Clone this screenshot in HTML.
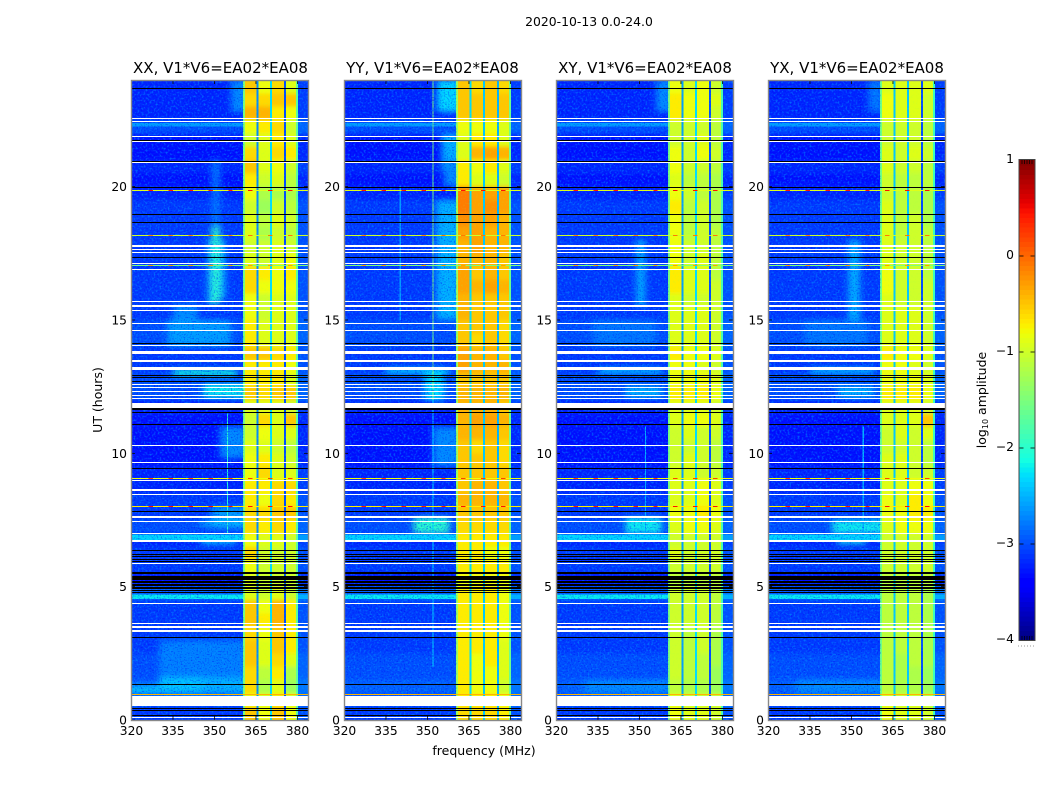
<!DOCTYPE html>
<html>
<head>
<meta charset="utf-8">
<title>Spectrogram 2020-10-13</title>
<style>
html,body{margin:0;padding:0;background:#fff;width:1050px;height:800px;overflow:hidden}
svg{display:block}
text{font-family:"DejaVu Sans","Liberation Sans",sans-serif;fill:#000}
.tick{font-size:12.3px}
.ttl{font-size:15px}
.lbl{font-size:12.5px}
</style>
</head>
<body>
<svg id="chart" xmlns="http://www.w3.org/2000/svg" width="1050" height="800" viewBox="0 0 1050 800">
<defs>
<filter id="vblur" filterUnits="userSpaceOnUse" x="0" y="40" width="1050" height="720"><feGaussianBlur stdDeviation="0 2"/></filter>
<filter id="softblur" filterUnits="userSpaceOnUse" x="0" y="40" width="1050" height="720"><feGaussianBlur stdDeviation="3.5 3"/></filter>
<filter id="speckle" x="0" y="0" width="100%" height="100%" color-interpolation-filters="sRGB">
<feTurbulence type="fractalNoise" baseFrequency="0.5" numOctaves="1" seed="7"/>
<feColorMatrix type="matrix" values="0 0 0 0 0  0 0 0 0 0.6  0 0 0 0 1  3.4 0 0 0 -1.6"/>
</filter>
<filter id="speckle-dark" x="0" y="0" width="100%" height="100%" color-interpolation-filters="sRGB">
<feTurbulence type="fractalNoise" baseFrequency="0.7" numOctaves="1" seed="23"/>
<feColorMatrix type="matrix" values="0 0 0 0 0  0 0 0 0 0  0 0 0 0 0.95  3.2 0 0 0 -1.7"/>
</filter>
<filter id="speckle-band" x="0" y="0" width="100%" height="100%" color-interpolation-filters="sRGB">
<feTurbulence type="fractalNoise" baseFrequency="0.6" numOctaves="1" seed="41"/>
<feColorMatrix type="matrix" values="0 0 0 0 0.6  0 0 0 0 1  0 0 0 0 0.3  3 0 0 0 -1.6"/>
</filter>
</defs>
<g id="panels"></g>
<g id="colorbar"></g>
<text x="589" y="26" text-anchor="middle" style="font-size:12.4px">2020-10-13 0.0-24.0</text>
<text class="ttl" x="220.5" y="73" text-anchor="middle">XX, V1*V6=EA02*EA08</text>
<text class="ttl" x="432.5" y="73" text-anchor="middle">YY, V1*V6=EA02*EA08</text>
<text class="ttl" x="645" y="73" text-anchor="middle">XY, V1*V6=EA02*EA08</text>
<text class="ttl" x="857" y="73" text-anchor="middle">YX, V1*V6=EA02*EA08</text>
<text class="lbl" x="484" y="755" text-anchor="middle">frequency (MHz)</text>
<text class="lbl" transform="translate(102,400) rotate(-90)" text-anchor="middle">UT (hours)</text>
<text class="lbl" transform="translate(986,400) rotate(-90)" text-anchor="middle">log<tspan dy="2" style="font-size:8px">10</tspan><tspan dy="-2"> amplitude</tspan></text>
</svg>
<script>
/* ---------- chart data ---------- */
var xTickValues = [320, 335, 350, 365, 380];
var yTickValues = [0, 5, 10, 15, 20];
var colorbarTickValues = [1, 0, -1, -2, -3, -4];
var colorbarTickLabels = ["1", "0", "\u22121", "\u22122", "\u22123", "\u22124"];
var rowHours = 0.5;
var subbandEdges = [360.4, 365.5, 370.5, 375.5, 380];
var gapFreqs = [360.7, 365.5, 370.5, 375.5, 379.9];
var xxGapValues = [-1.5, -2.7, -2.3, -3.0, -1.7];
var yyGapValues = [-1.3, -2.3, -2.4, -2.5, -1.6];
var xyGapValues = [-1.5, -2.6, -2.3, -3.0, -1.8];
var yxGapValues = [-1.6, -2.4, -2.4, -3.0, -1.9];

/* log10 amplitude away from the strong band; half-hour rows from UT 24 down to UT 0 */
var skyRowLevels = [-3.2,-3.2,-3.2,-3.0,-3.3,-3.3,-3.2,-3.3, -3.2,-3.1,-3.1,-3.1,-3.1,-3.1,-3.1,-3.1, -3.1,-3.1,-3.0,-3.0,-3.1,-3.1,-3.0,-3.0, -3.2,-3.3,-3.3,-3.3,-3.3,-3.2,-3.2,-3.1, -3.1,-3.0,-3.2,-3.1,-3.1,-3.3,-2.9,-3.1, -3.1,-3.1,-3.1,-3.0,-3.0,-2.9,-3.0,-3.1];

/* log10 amplitude in the four strong sub-bands, same rows */
var xxBand1 = [-0.5,-0.6,-0.4,-0.8,-1.0,-0.6,-0.5,-0.7, -0.8,-1.0,-0.9,-0.9,-1.0,-0.9,-0.6,-0.6, -0.8,-0.8,-0.7,-0.7,-0.5,-0.7,-0.7,-0.5, -0.9,-1.0,-1.0,-0.9,-0.8,-0.8,-0.7,-0.7, -0.6,-0.6,-0.8,-0.6,-0.8,-0.9,-0.9,-0.5, -0.5,-0.6,-0.5,-0.5,-0.6,-0.6,-0.8,-0.5];
var xxBand2 = [-0.8,-0.6,-0.4,-0.7,-0.9,-0.9,-0.9,-1.0, -1.2,-1.3,-1.1,-1.2,-1.0,-1.0,-0.7,-0.8, -1.0,-1.0,-0.9,-0.9,-0.5,-0.7,-0.7,-0.6, -0.9,-0.6,-0.8,-0.9,-0.7,-0.6,-0.7,-0.8, -0.6,-0.7,-0.9,-1.0,-1.0,-1.0,-1.0,-0.8, -0.7,-0.8,-0.9,-0.9,-1.1,-1.2,-0.9,-0.8];
var xxBand3 = [-0.6,-0.5,-0.7,-0.6,-0.7,-0.6,-0.8,-0.9, -1.2,-1.0,-0.9,-1.0,-0.9,-0.9,-0.8,-0.8, -0.9,-0.9,-0.9,-0.9,-0.6,-0.7,-0.7,-0.5, -0.9,-0.9,-0.9,-1.0,-0.9,-0.9,-0.6,-0.6, -0.5,-0.6,-0.9,-1.0,-1.0,-1.0,-0.9,-0.4, -0.4,-0.5,-0.5,-0.6,-0.7,-0.9,-0.7,-0.5];
var xxBand4 = [-0.9,-0.5,-0.8,-1.0,-0.9,-0.7,-1.0,-1.1, -1.2,-1.1,-1.0,-1.1,-1.0,-0.8,-0.7,-0.8, -0.9,-0.9,-0.9,-0.9,-0.7,-0.8,-0.9,-0.5, -1.0,-0.5,-0.9,-1.1,-1.0,-0.9,-0.6,-0.7, -0.5,-0.7,-1.0,-1.0,-1.0,-1.0,-1.0,-0.7, -0.7,-0.7,-0.7,-0.9,-1.2,-1.3,-0.9,-0.8];
var yyBand1 = [-0.5,-0.5,-0.5,-0.8,-0.9,-0.9,-0.7,-0.7, -0.1,-0.1,-0.2,-0.3,-0.4,-0.4,-0.3,-0.3, -0.4,-0.4,-0.5,-0.5,-0.3,-0.3,-0.5,-0.4, -0.4,-0.4,-0.4,-0.5,-0.5,-0.5,-0.5,-0.4, -0.5,-0.6,-0.7,-0.7,-0.7,-0.8,-0.7,-0.7, -0.7,-0.7,-0.7,-0.7,-0.7,-0.7,-0.7,-0.6];
var yyBand2 = [-0.6,-0.5,-0.5,-0.8,-0.7,-0.4,-0.8,-0.9, -0.3,-0.3,-0.3,-0.3,-0.3,-0.4,-0.5,-0.4, -0.5,-0.5,-0.5,-0.6,-0.4,-0.4,-0.5,-0.4, -0.4,-0.3,-0.4,-0.6,-0.5,-0.5,-0.4,-0.4, -0.5,-0.6,-0.7,-0.7,-0.7,-0.8,-0.7,-0.7, -0.7,-0.7,-0.7,-0.8,-0.8,-0.8,-0.7,-0.6];
var yyBand3 = [-0.5,-0.5,-0.5,-0.8,-0.7,-0.3,-0.7,-0.9, -0.3,-0.2,-0.3,-0.4,-0.4,-0.4,-0.4,-0.3, -0.5,-0.5,-0.5,-0.5,-0.4,-0.4,-0.5,-0.4, -0.4,-0.3,-0.4,-0.5,-0.5,-0.5,-0.4,-0.4, -0.5,-0.6,-0.7,-0.8,-0.7,-0.8,-0.7,-0.7, -0.7,-0.7,-0.7,-0.7,-0.8,-0.8,-0.7,-0.6];
var yyBand4 = [-0.6,-0.5,-0.5,-0.9,-0.9,-0.4,-0.9,-1.0, -0.3,-0.3,-0.4,-0.4,-0.4,-0.5,-0.5,-0.4, -0.5,-0.5,-0.6,-0.6,-0.5,-0.4,-0.5,-0.4, -0.5,-0.4,-0.5,-0.6,-0.6,-0.5,-0.5,-0.4, -0.5,-0.6,-0.7,-0.8,-0.7,-0.8,-0.8,-0.8, -0.8,-0.8,-0.9,-0.9,-0.9,-1.0,-0.8,-0.7];
var xyBand1 = [-0.8,-0.7,-0.7,-1.0,-1.0,-0.8,-0.8,-0.9, -0.8,-0.7,-0.8,-0.8,-0.8,-0.8,-0.7,-0.7, -0.9,-0.9,-0.9,-0.9,-0.7,-0.8,-0.8,-0.7, -0.9,-0.9,-1.0,-1.0,-1.0,-0.9,-0.9,-0.9, -0.8,-0.9,-1.0,-0.9,-1.0,-1.1,-1.0,-1.0, -1.0,-1.0,-1.0,-1.0,-1.0,-1.1,-0.9,-0.8];
var xyBand2 = [-0.9,-0.8,-0.8,-1.0,-1.0,-1.0,-1.0,-1.1, -1.0,-1.1,-1.1,-1.1,-1.0,-1.0,-0.9,-0.9, -1.0,-0.9,-0.9,-0.9,-0.8,-0.8,-0.8,-0.7, -0.9,-0.8,-0.9,-1.0,-0.9,-0.9,-0.9,-0.9, -0.8,-0.8,-1.0,-1.0,-1.0,-1.1,-1.0,-1.0, -1.0,-1.1,-1.1,-1.1,-1.1,-1.2,-1.0,-0.9];
var xyBand3 = [-0.8,-0.8,-0.8,-1.0,-0.9,-0.8,-1.0,-1.1, -1.1,-1.0,-1.0,-1.0,-1.0,-0.9,-0.9,-0.9, -1.0,-0.9,-0.9,-0.9,-0.8,-0.9,-0.8,-0.7, -0.9,-0.8,-1.0,-1.0,-1.0,-1.0,-0.8,-0.8, -0.7,-0.8,-1.0,-1.0,-1.0,-1.1,-1.0,-1.0, -1.0,-1.0,-1.0,-1.1,-1.1,-1.2,-1.0,-0.9];
var xyBand4 = [-1.0,-0.9,-1.0,-1.1,-1.1,-1.0,-1.1,-1.2, -1.2,-1.2,-1.2,-1.1,-1.1,-1.1,-1.1,-1.0, -1.0,-1.0,-1.0,-1.0,-0.9,-1.0,-0.9,-0.8, -1.0,-0.9,-1.0,-1.1,-1.1,-1.0,-0.9,-0.9, -0.8,-0.9,-1.0,-1.0,-1.0,-1.1,-1.1,-1.1, -1.1,-1.2,-1.2,-1.2,-1.3,-1.3,-1.0,-1.0];
var yxBand1 = [-0.9,-0.8,-0.8,-1.0,-1.0,-0.9,-0.9,-1.0, -1.0,-0.9,-0.9,-0.9,-0.9,-0.9,-0.8,-0.8, -0.9,-0.9,-0.9,-0.9,-0.7,-0.8,-0.8,-0.7, -0.9,-0.9,-1.0,-1.0,-0.9,-0.9,-0.9,-0.8, -0.8,-0.9,-1.0,-1.0,-1.0,-1.1,-1.1,-1.1, -1.1,-1.1,-1.1,-1.1,-1.1,-1.1,-0.9,-0.8];
var yxBand2 = [-0.9,-0.9,-0.9,-1.0,-1.0,-1.0,-1.0,-1.1, -1.1,-1.1,-1.1,-1.1,-1.0,-1.0,-1.0,-1.0, -1.0,-0.9,-0.9,-0.9,-0.8,-0.8,-0.8,-0.7, -0.9,-0.9,-0.9,-1.0,-0.9,-0.9,-0.9,-0.9, -0.8,-0.8,-1.0,-1.0,-1.0,-1.1,-1.1,-1.1, -1.1,-1.1,-1.1,-1.2,-1.2,-1.2,-1.0,-0.9];
var yxBand3 = [-0.9,-0.9,-0.9,-1.0,-1.0,-0.9,-1.0,-1.1, -1.1,-1.1,-1.0,-1.0,-1.0,-1.0,-1.0,-1.0, -1.0,-0.9,-0.9,-0.9,-0.8,-0.9,-0.8,-0.7, -0.9,-0.9,-1.0,-1.0,-1.0,-1.0,-0.8,-0.7, -0.7,-0.8,-1.0,-1.0,-1.0,-1.1,-1.1,-1.1, -1.1,-1.1,-1.1,-1.1,-1.2,-1.2,-1.0,-0.9];
var yxBand4 = [-0.9,-1.0,-1.0,-1.1,-1.1,-1.0,-1.1,-1.1, -1.2,-1.2,-1.2,-1.1,-1.1,-1.1,-1.1,-1.0, -1.0,-1.0,-1.0,-1.0,-0.9,-1.0,-0.9,-0.8, -1.0,-0.5,-0.9,-1.1,-1.1,-1.0,-0.8,-0.8, -0.7,-0.8,-1.0,-1.0,-1.0,-1.1,-1.2,-1.2, -1.2,-1.2,-1.2,-1.2,-1.3,-1.3,-1.1,-1.0];

/* brighter sky patches: start MHz, end MHz, start UT, end UT, log10 amplitude */
var xxPatches = [[356,362,22.8,24,-2.7],[349,352,15.6,18.5,-2.0],[347.5,349,15.6,18,-2.5],[352,354,15.8,18,-2.5],[349,352,18.5,21,-2.8],[333,356,14,15,-2.6],[335,344,15,15.6,-2.7],[335,358,12.9,13.15,-2.1],[346,362,12.1,12.6,-2.2],[352,362,9.8,11,-2.7],[349,362,7.2,8,-2.6],[345,358,6.6,6.8,-2.3],[345,362,7.3,7.45,-2.4],[330,362,1,3,-2.75],[330,345,1,1.6,-2.4],[345,362,1,1.6,-2.5],[318,330,1,1.3,-2.4]];
var yyPatches = [[353.5,362,22.8,24,-2.3],[355,362,20.6,22,-2.5],[353,362,15,19.5,-2.5],[349,356,12,13.1,-2.3],[345,358,7,7.6,-2.0],[352,362,9.5,11,-2.7],[356,362,20,21,-2.7],[335,358,13,13.2,-2.3]];
var xyPatches = [[356,362,22.8,24,-2.7],[349,352,15.5,18,-2.5],[335,358,13,13.2,-2.4],[345,358,12.1,12.5,-2.5],[345,358,7,7.6,-2.2],[330,362,1,1.5,-2.7],[333,356,14,15,-2.8]];
var yxPatches = [[356,362,22.8,24,-2.8],[349,353,15,18,-2.5],[335,358,13,13.2,-2.4],[345,358,12.1,12.5,-2.5],[343,362,7,7.5,-2.2],[345,355,6.6,6.8,-2.2],[330,362,1,1.5,-2.7],[333,356,14,15,-2.8]];

/* vertical interference lines: frequency (MHz), UT start, UT end, log10 amplitude */
var xxVerticals = [[354.5, 7, 11.5, -2.0]];
var yyVerticals = [[351.8, 12, 24, -1.5], [351.8, 2, 12, -2.3], [339.9, 15, 20, -2.6]];
var xyVerticals = [[352, 7, 11, -2.5]];
var yxVerticals = [[354, 7, 11, -2.5]];

/* whole-row features shared by all panels */
var brightRowUT = [22.32, 4.62, 6.85];
var brightRowHours = [0.14, 0.16, 0.2];
var brightRowValues = [-2.6, -2.2, -2.3];
var rfiRowsUT = [19.86, 18.18, 17.04, 9.04, 8.0, 0.94];
var rfiRowValues = [-0.9, -1.0, -1.5, -0.8, -0.7, -0.4];
var rfiSpikeValues = [0.45, -0.1, -0.3, 0.2, 0.45, -0.4];
var rfiFreqs = [327, 334.2, 341.4, 348.6, 355.8, 363, 370.2, 377.4];
var whiteFlagUT = [22.55, 22.46, 21.87, 21.68, 20.91, 17.79, 17.66, 17.55, 17.12, 16.91, 15.68, 15.54, 15.35, 14.87, 14.61, 14.06, 13.79, 13.47, 13.17, 12.57, 12.47, 12.32, 12.17, 12.05, 11.81, 10.31, 9.66, 9.0, 8.62, 8.44, 7.61, 7.44, 6.99, 6.7, 5.87, 4.37, 3.62, 3.52, 3.46, 3.35, 0.72, 0.53, 0.08];
var whiteFlagPixels = [1, 1, 1, 1, 1, 2, 1, 1, 1, 1, 1, 2, 1, 1, 1, 1, 3, 2, 3, 1, 1, 1, 1, 1, 5, 1, 1, 1, 2, 1, 2, 1, 1, 2, 1, 1, 1, 1, 1, 2, 9, 1, 1];
var blackFlagUT = [23.69, 21.72, 20.95, 19.97, 18.96, 18.66, 17.35, 14.12, 12.91, 12.84, 12.7, 11.66, 11.53, 11.08, 9.44, 7.81, 6.37, 6.22, 6.15, 6.03, 5.94, 5.53, 5.48, 5.32, 5.19, 5.14, 5.1, 5.03, 4.98, 4.94, 4.86, 4.79, 3.1, 1.34, 0.44, 0.35, 0.16];
var blackFlagPixels = [1, 1, 1, 1, 1, 1, 1, 1, 1, 1, 1, 2, 1, 1, 1, 1, 1, 1, 1, 1, 1, 1, 1, 4, 1, 1, 1, 1, 1, 1, 1, 1, 1, 1, 1, 1, 1];

/* ---------- layout and scales ---------- */
var SVGNS = "http://www.w3.org/2000/svg";
var panelLefts = [131, 344, 556, 768];
var panelNames = ["xx", "yy", "xy", "yx"];
var panelBands = [[xxBand1, xxBand2, xxBand3, xxBand4], [yyBand1, yyBand2, yyBand3, yyBand4], [xyBand1, xyBand2, xyBand3, xyBand4], [yxBand1, yxBand2, yxBand3, yxBand4]];
var panelPatches = [xxPatches, yyPatches, xyPatches, yxPatches];
var panelGaps = [xxGapValues, yyGapValues, xyGapValues, yxGapValues];
var panelVerticals = [xxVerticals, yyVerticals, xyVerticals, yxVerticals];
var plotW = 177, plotTop = 80, plotBottom = 720;
function xScale(left, f) { return left + 0.5 + (f - 320) * plotW / 64; }
function yScale(ut) { return plotBottom - ut * (plotBottom - plotTop) / 24; }
function lerpStops(s, t) {
  for (var i = 1; i < s.length; i++) {
    if (t <= s[i][0]) {
      return s[i-1][1] + (s[i][1] - s[i-1][1]) * (t - s[i-1][0]) / (s[i][0] - s[i-1][0]);
    }
  }
  return s[s.length-1][1];
}
var jetR = [[0,0],[0.35,0],[0.66,1],[0.89,1],[1,0.5]];
var jetG = [[0,0],[0.125,0],[0.375,1],[0.64,1],[0.91,0],[1,0]];
var jetB = [[0,0.5],[0.11,1],[0.34,1],[0.65,0],[1,0]];
function jet(v) {
  var t = Math.max(0, Math.min(1, (v + 4) / 5));
  return "rgb(" + Math.round(255 * lerpStops(jetR, t)) + "," + Math.round(255 * lerpStops(jetG, t)) + "," + Math.round(255 * lerpStops(jetB, t)) + ")";
}
function shape(parent, tag, name, attrs) {
  var el = document.createElementNS(SVGNS, tag);
  
  
  for (var k in attrs) { el.setAttribute(k, attrs[k]); }
  parent.appendChild(el);
  return el;
}
function cellRect(parent, name, x0, x1, y0, y1, fill) {
  return shape(parent, "rect", name, {x: x0, y: y0, width: x1 - x0, height: y1 - y0, fill: fill, "shape-rendering": "crispEdges"});
}
function flagRow(parent, name, left, ut, px, fill) {
  var y0 = Math.round(yScale(ut) - px / 2);
  return shape(parent, "rect", name, {x: left, y: y0, width: plotW + 1, height: px, fill: fill, "shape-rendering": "crispEdges"});
}
function label(parent, name, x, y, anchor, str) {
  var t = shape(parent, "text", name, {x: x, y: y, "text-anchor": anchor, "class": "tick"});
  t.textContent = str;
  return t;
}
function clipRect(parent, id, x, y, w, h) {
  var cp = document.createElementNS(SVGNS, "clipPath");
  cp.setAttribute("id", id);
  var cr = document.createElementNS(SVGNS, "rect");
  cr.setAttribute("x", x); cr.setAttribute("y", y);
  cr.setAttribute("width", w); cr.setAttribute("height", h);
  cp.appendChild(cr);
  parent.appendChild(cp);
}

/* ---------- panels ---------- */
var root = document.getElementById("panels");
panelNames.forEach(function (pname, p) {
  var left = panelLefts[p];
  var g = shape(root, "g", "panel-" + pname, {});
  var skyX0 = xScale(left, 320), skyX1 = xScale(left, 360.4), edgeX0 = xScale(left, 380.3), edgeX1 = xScale(left, 384);
  var plotH = plotBottom - plotTop;
  clipRect(g, "clip-" + pname, left + 0.5, plotTop, plotW, plotH);
  clipRect(g, "clip-sky-" + pname, skyX0, plotTop, skyX1 - skyX0, plotH);
  var clip = shape(g, "g", "heatmap-" + pname, {"clip-path": "url(#clip-" + pname + ")"});
  var cells = shape(clip, "g", "heatmap-cells-" + pname, {filter: "url(#vblur)"});
  skyRowLevels.forEach(function (level, r) {
    var utTop = 24 - r * rowHours, utBot = utTop - rowHours;
    var y0 = yScale(utTop) - (r === 0 ? 14 : 0);
    var y1 = yScale(utBot) + (r === skyRowLevels.length - 1 ? 14 : 0);
    cellRect(cells, "sky-cell", xScale(left, 320), xScale(left, 360.4), y0, y1, jet(level));
    cellRect(cells, "sky-cell-high", xScale(left, 380), xScale(left, 384), y0, y1, jet(level + 0.1));
    panelBands[p].forEach(function (band, b) {
      cellRect(cells, "band-cell", xScale(left, subbandEdges[b]), xScale(left, subbandEdges[b + 1]), y0, y1, jet(band[r]));
    });
  });
  var skyClip = shape(clip, "g", "sky-patches-clip-" + pname, {"clip-path": "url(#clip-sky-" + pname + ")"});
  var soft = shape(skyClip, "g", "sky-patches-" + pname, {filter: "url(#softblur)"});
  panelPatches[p].forEach(function (q) {
    cellRect(soft, "sky-patch", xScale(left, q[0]), xScale(left, q[1]), yScale(q[3]), yScale(q[2]), jet(q[4]));
  });
  brightRowUT.forEach(function (ut, i) {
    var h = brightRowHours[i] / 2;
    cellRect(clip, "bright-row", xScale(left, 320), xScale(left, 360.4), yScale(ut + h), yScale(ut - h), jet(brightRowValues[i]));
    cellRect(clip, "bright-row-edge", xScale(left, 380), xScale(left, 384), yScale(ut + h), yScale(ut - h), jet(brightRowValues[i] - 0.3));
  });
  panelVerticals[p].forEach(function (l) {
    cellRect(clip, "interference-line", xScale(left, l[0]), xScale(left, l[0] + 0.45), yScale(l[2]), yScale(l[1]), jet(l[3]));
  });
  gapFreqs.forEach(function (f, i) {
    cellRect(clip, "channel-gap", xScale(left, f - 0.35), xScale(left, f + 0.35), plotTop, plotBottom, jet(panelGaps[p][i]));
  });
  shape(clip, "rect", "noise-texture-sky", {x: skyX0, y: plotTop, width: skyX1 - skyX0, height: plotH, filter: "url(#speckle)", opacity: 0.55});
  shape(clip, "rect", "noise-texture-sky-dark", {x: skyX0, y: plotTop, width: skyX1 - skyX0, height: plotH, filter: "url(#speckle-dark)", opacity: 0.6});
  shape(clip, "rect", "noise-texture-edge", {x: edgeX0, y: plotTop, width: edgeX1 - edgeX0, height: plotH, filter: "url(#speckle)", opacity: 0.5});
  shape(clip, "rect", "noise-texture-band", {x: xScale(left, 361), y: plotTop, width: xScale(left, 379.6) - xScale(left, 361), height: plotH, filter: "url(#speckle-band)", opacity: 0.22});
  rfiRowsUT.forEach(function (ut, i) {
    flagRow(clip, "rfi-row", left, ut, 1, jet(rfiRowValues[i]));
    rfiFreqs.forEach(function (f) {
      var y0 = Math.round(yScale(ut) - 0.5);
      cellRect(clip, "rfi-spike", xScale(left, f - 0.8), xScale(left, f + 0.8), y0, y0 + 1, jet(rfiSpikeValues[i]));
    });
  });
  whiteFlagUT.forEach(function (ut, i) {
    flagRow(clip, "flagged-row-white", left, ut, whiteFlagPixels[i], "#fff");
  });
  blackFlagUT.forEach(function (ut, i) {
    flagRow(clip, "flagged-row-black", left, ut, blackFlagPixels[i], "#000");
  });
  xTickValues.forEach(function (tv) {
    var x = xScale(left, tv);
    shape(g, "line", "x-tick", {x1: x, x2: x, y1: plotBottom, y2: plotBottom - 4, stroke: "#000", "stroke-width": 0.8});
    shape(g, "line", "x-tick-top", {x1: x, x2: x, y1: plotTop, y2: plotTop + 4, stroke: "#000", "stroke-width": 0.8});
    label(g, "x-tick-label", x, 735, "middle", String(tv));
  });
  yTickValues.forEach(function (tv) {
    var y = yScale(tv);
    shape(g, "line", "y-tick", {x1: left, x2: left + 4, y1: y, y2: y, stroke: "#000", "stroke-width": 0.8});
    shape(g, "line", "y-tick-right", {x1: left + plotW, x2: left + plotW - 4, y1: y, y2: y, stroke: "#000", "stroke-width": 0.8});
    label(g, "y-tick-label", left - 4, y + 4.5, "end", String(tv));
  });
  shape(g, "rect", "panel-frame", {x: left + 0.5, y: plotTop + 0.5, width: plotW, height: plotH, fill: "none", stroke: "#888", "stroke-width": 1.4});
});

/* ---------- colorbar ---------- */
var cbar = document.getElementById("colorbar");
var cbLeft = 1019.5, cbWidth = 15, cbTop = 160, cbBottom = 640, cbMin = -4, cbMax = 1;
function cbScale(v) { return cbBottom - (v - cbMin) * (cbBottom - cbTop) / (cbMax - cbMin); }
for (var s = 0; s < 100; s++) {
  var v0 = cbMin + s * (cbMax - cbMin) / 100;
  var v1 = cbMin + (s + 1) * (cbMax - cbMin) / 100;
  cellRect(cbar, "colorbar-step", cbLeft, cbLeft + cbWidth, cbScale(v1), cbScale(v0) + 0.5, jet((v0 + v1) / 2));
}
colorbarTickValues.forEach(function (tv, i) {
  var y = cbScale(tv);
  if (tv !== cbMin && tv !== cbMax) {
    shape(cbar, "line", "colorbar-tick-left", {x1: cbLeft, x2: cbLeft + 4, y1: y, y2: y, stroke: "#000", "stroke-width": 0.8});
    shape(cbar, "line", "colorbar-tick-right", {x1: cbLeft + cbWidth, x2: cbLeft + cbWidth - 4, y1: y, y2: y, stroke: "#000", "stroke-width": 0.8});
  }
  label(cbar, "colorbar-tick-label", 1014, y + 3, "end", colorbarTickLabels[i]);
});
for (var m = 1; m <= 5; m++) {
  var mx = cbLeft + m * cbWidth / 6;
  shape(cbar, "line", "colorbar-minor-tick-top", {x1: mx, x2: mx, y1: cbTop, y2: cbTop + 4, stroke: "#000", "stroke-width": 0.7});
  shape(cbar, "line", "colorbar-minor-tick-bottom", {x1: mx, x2: mx, y1: cbBottom, y2: cbBottom - 4, stroke: "#000", "stroke-width": 0.7});
}
shape(cbar, "rect", "colorbar-frame", {x: cbLeft - 0.5, y: cbTop - 0.5, width: cbWidth + 1, height: cbBottom - cbTop + 1, fill: "none", stroke: "#444", "stroke-width": 1});
shape(cbar, "line", "colorbar-dots", {x1: 1018, x2: 1035, y1: 646, y2: 646, stroke: "#999", "stroke-width": 1, "stroke-dasharray": "1 2"});
</script>
</body>
</html>
